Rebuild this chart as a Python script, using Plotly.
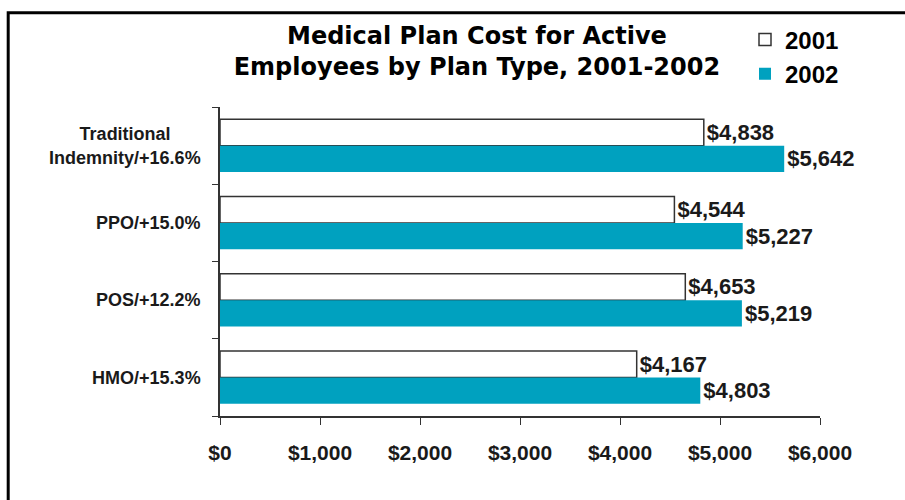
import plotly.graph_objects as go

categories = ["Traditional<br>Indemnity/+16.6%", "PPO/+15.0%", "POS/+12.2%", "HMO/+15.3%"]
tick_labels = ["Traditional&nbsp;&nbsp;&nbsp;&nbsp;&nbsp;&nbsp;<br>Indemnity/+16.6%",
               "PPO/+15.0%", "POS/+12.2%", "HMO/+15.3%"]
cost_2001 = [4838, 4544, 4653, 4167]
cost_2002 = [5642, 5227, 5219, 4803]
x_ticks = [0, 1000, 2000, 3000, 4000, 5000, 6000]

FONT = "Liberation Sans"
TXT = "#1a1a1a"
TEAL = "#00a1bf"

fig = go.Figure()
fig.add_trace(go.Bar(
    name="<b>2001</b>", y=categories, x=cost_2001, orientation="h",
    marker=dict(color="white", line=dict(color="#333333", width=1.5)),
    texttemplate="<b>$%{x:,}</b>", textposition="outside", cliponaxis=False,
    textfont=dict(family=FONT, size=22, color=TXT),
))
fig.add_trace(go.Bar(
    name="<b>2002</b>", y=categories, x=cost_2002, orientation="h",
    marker=dict(color=TEAL, line=dict(width=0)),
    texttemplate="<b>$%{x:,}</b>", textposition="outside", cliponaxis=False,
    textfont=dict(family=FONT, size=22, color=TXT),
))

fig.update_layout(
    width=905, height=500,
    margin=dict(l=220, r=85, t=107, b=84),
    paper_bgcolor="white", plot_bgcolor="white",
    barmode="group", bargap=0.32, bargroupgap=0,
    font=dict(family=FONT, color=TXT),
    title=dict(
        text="<b>Medical Plan Cost for Active<br>Employees by Plan Type, 2001-2002</b>",
        x=0.527, xanchor="center", yref="container", y=0.912, yanchor="middle",
        font=dict(family="DejaVu Sans", size=24, color="black"),
    ),
    legend=dict(
        x=0.875, xanchor="left", y=1.29, yanchor="top",
        font=dict(family=FONT, size=24, color="black"),
        bgcolor="rgba(0,0,0,0)", itemwidth=30,
    ),
    showlegend=True,
)
fig.update_xaxes(
    range=[0, 6000], tickvals=x_ticks,
    ticktext=["<b>$" + f"{v:,}" + "</b>" for v in x_ticks],
    showgrid=False, zeroline=False, showline=True, linecolor="#333", linewidth=1.5,
    ticks="outside", ticklen=7, tickcolor="#333", ticklabelstandoff=10,
    tickfont=dict(family=FONT, size=21, color=TXT),
)
fig.update_yaxes(
    autorange="reversed", showgrid=False, showline=True, linecolor="#333", linewidth=1.5,
    ticks="outside", ticklen=6, tickcolor="#333", tickson="boundaries",
    ticklabelstandoff=14,
    tickvals=categories, ticktext=["<b>" + c + "</b>" for c in tick_labels],
    tickfont=dict(family=FONT, size=18, color=TXT),
)

fig.add_shape(type="rect", xref="paper", yref="paper",
              x0=-0.353, x1=1.16, y0=-0.3, y1=1.305,
              line=dict(color="black", width=3), fillcolor="rgba(0,0,0,0)", layer="below")

fig.write_html("out.html")
